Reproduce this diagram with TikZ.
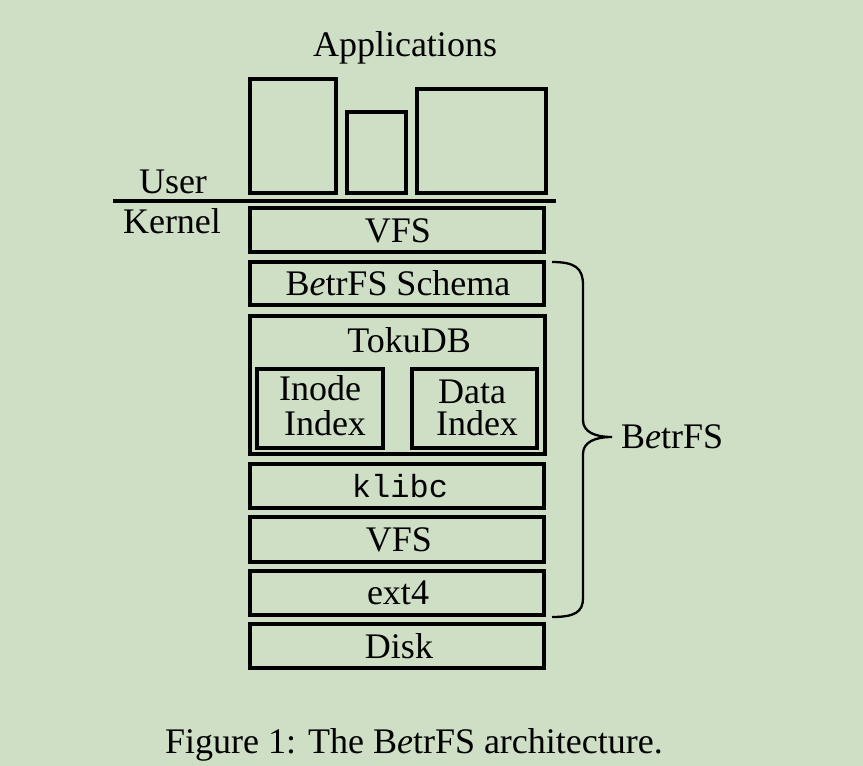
\documentclass[tikz,border=0pt]{standalone}
\usepackage{fontspec}
\setmainfont{Liberation Serif}
\setmonofont{Liberation Mono}
\definecolor{bg}{RGB}{207,223,197}
\begin{document}
\begin{tikzpicture}[x=1pt,y=-1pt,
  box/.style={draw=black,line width=3.1pt},
  lbl/.style={anchor=base,inner sep=0pt,font=\fontsize{36}{40}\selectfont},
  tight/.style={text height=24pt,text depth=0pt},
  mono/.style={anchor=base,inner sep=0pt,font=\fontsize{32}{36}\selectfont\ttfamily}]
\useasboundingbox (0,0) rectangle (863,766);
\fill[bg] (0,0) rectangle (863,766);
% applications
\node[lbl] (apps) at (405,56) {Applications};
\draw[box] (250,79) rectangle (336,193);
\draw[box] (347,112) rectangle (406,193);
\draw[box] (417,89) rectangle (546,193);
% user/kernel line
\coordinate (ul) at (113,201);
\coordinate (ur) at (556,201);
\draw[line width=3.1pt] (ul) -- (ur);
\node[lbl] (user) at (173,193) {User};
\node[lbl] (kernel) at (172,233) {Kernel};
% stack
\draw[box] (250,208) rectangle (544,252);
\node[lbl] (vfs1) at (398,242) {VFS};
\draw[box] (250,262) rectangle (544,305);
\node[lbl] (schema) at (398,295) {B\textit{e}trFS Schema};
\draw[box] (250,316) rectangle (545,454);
\node[lbl] (toku) at (409,352) {TokuDB};
\draw[box] (257,369) rectangle (383,448);
\node[lbl,tight] (inode) at (320,400) {Inode};
\node[lbl,tight] (idx1) at (325,435) {Index};
\draw[box] (412,369) rectangle (537,448);
\node[lbl,tight] (data) at (472,403) {Data};
\node[lbl,tight] (idx2) at (477,435) {Index};
\draw[box] (250,464) rectangle (544,508);
\node[mono] (klibc) at (400,497) {klibc};
\draw[box] (250,517) rectangle (544,562);
\node[lbl] (vfs2) at (399,551) {VFS};
\draw[box] (250,571) rectangle (544,615);
\node[lbl] (ext4) at (398,604) {ext4};
\draw[box] (250,624) rectangle (544,668);
\node[lbl] (disk) at (399,658) {Disk};
% brace
\draw[line width=2.3pt] (552,262) .. controls (575,262) and (583,268) .. (583,285) -- (583,420)
  .. controls (583,432) and (595,437) .. (612,437)
  .. controls (595,437) and (583,442) .. (583,454) -- (583,598)
  .. controls (583,612) and (575,617) .. (552,617);
\node[lbl,anchor=base west] (betrfs) at (621,448) {B\textit{e}trFS};
% caption
\node[lbl] (caption) at (414,753) {Figure 1: The B\textit{e}trFS architecture.};
\end{tikzpicture}
\end{document}
